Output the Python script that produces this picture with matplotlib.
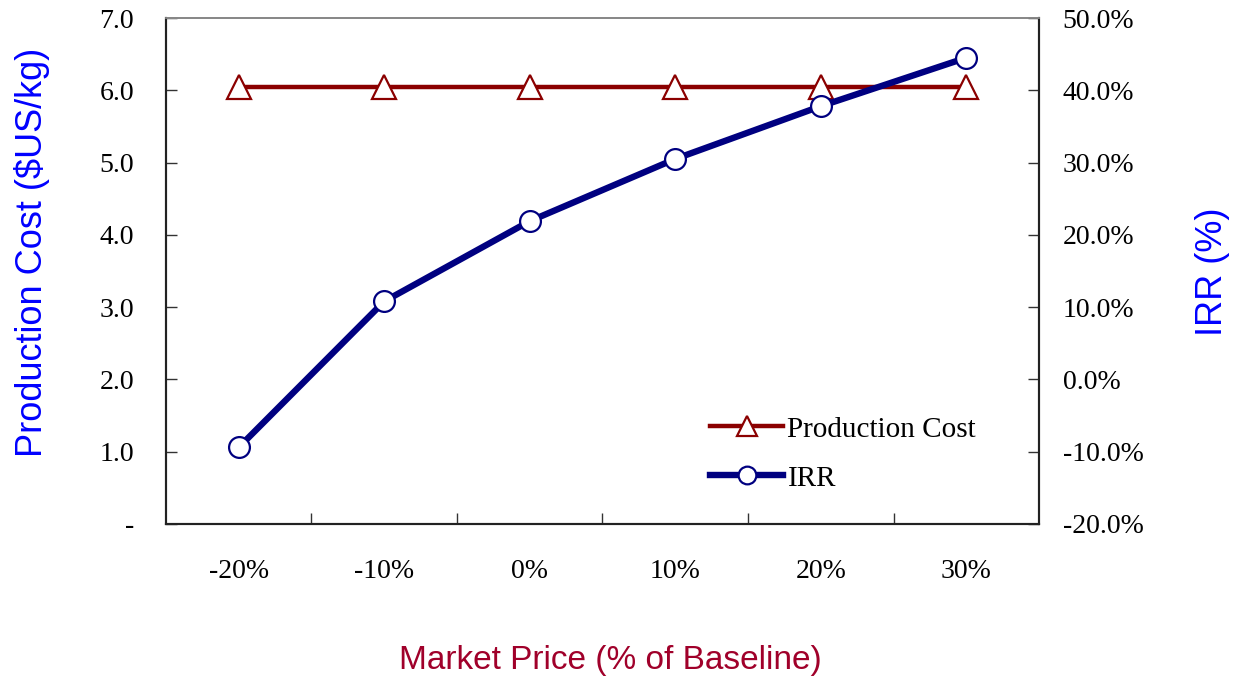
import matplotlib
matplotlib.use("Agg")
import matplotlib.pyplot as plt
from matplotlib.ticker import FixedLocator, FuncFormatter

categories = ["-20%", "-10%", "0%", "10%", "20%", "30%"]
production_cost = [6.05, 6.05, 6.05, 6.05, 6.05, 6.05]
irr = [-9.4, 10.8, 21.9, 30.5, 37.8, 44.5]

left_ticks = [0, 1, 2, 3, 4, 5, 6, 7]
right_ticks = [-20, -10, 0, 10, 20, 30, 40, 50]

serif = "Liberation Serif"
sans = "Liberation Sans"

fig = plt.figure(figsize=(12.35, 6.77), dpi=100)
ax = fig.add_axes([0.1344, 0.226, 0.7069, 0.7474])
ax2 = ax.twinx()

x = list(range(len(categories)))

ax.plot(x, production_cost, color="#8B0000", lw=3.2, marker="^", ms=17,
        mfc="white", mec="#8B0000", mew=1.6, zorder=3, label="Production Cost")
ax2.plot(x, irr, color="#000080", lw=4.6, marker="o", ms=15,
         mfc="white", mec="#000080", mew=1.6, zorder=3, label="IRR")

ax.set_xlim(-0.5, len(categories) - 0.5)
ax.set_ylim(0, 7)
ax2.set_ylim(-20, 50)

ax.set_xticks(x)
ax.set_xticklabels(categories, fontfamily=serif, fontsize=20)
ax.tick_params(axis="x", which="major", length=0, pad=25)
ax.xaxis.set_minor_locator(FixedLocator([i + 0.5 for i in x[:-1]]))
ax.tick_params(axis="x", which="minor", direction="in", length=8, width=1, color="#333333")

ax.yaxis.set_major_locator(FixedLocator(left_ticks))
ax.yaxis.set_major_formatter(FuncFormatter(lambda v, p: "-" if v == 0 else f"{v:.1f}"))
ax.tick_params(axis="y", direction="in", length=8, width=1, pad=23, color="#333333")
for t in ax.get_yticklabels():
    t.set_fontfamily(serif)
    t.set_fontsize(20)

ax2.yaxis.set_major_locator(FixedLocator(right_ticks))
ax2.yaxis.set_major_formatter(FuncFormatter(lambda v, p: f"{v:.1f}%"))
ax2.tick_params(axis="y", direction="in", length=8, width=1, pad=17, color="#333333")
for t in ax2.get_yticklabels():
    t.set_fontfamily(serif)
    t.set_fontsize(20)

for a in (ax, ax2):
    for s in a.spines.values():
        s.set_linewidth(1.5)
        s.set_color("#222222")
    a.spines["top"].set_color("#888888")
    a.spines["top"].set_linewidth(1.3)

ax.set_ylabel("Production Cost ($US/kg)", color="#0000FF", fontfamily=sans, fontsize=26)
ax.yaxis.label.set_va("center")
ax.yaxis.set_label_coords(-0.153, 0.537)

ax2.set_ylabel("IRR (%)", color="#0000FF", fontfamily=sans, fontsize=26)
ax2.yaxis.label.set_va("center")
ax2.yaxis.set_label_coords(1.199, 0.498)

ax.set_xlabel("Market Price (% of Baseline)", color="#A0002A", fontfamily=sans, fontsize=24)
ax.xaxis.label.set_va("center")
ax.xaxis.set_label_coords(0.5086, -0.269)

h1, l1 = ax.get_legend_handles_labels()
h2, l2 = ax2.get_legend_handles_labels()
leg = ax2.legend(h1 + h2, l1 + l2, loc="lower right", bbox_to_anchor=(0.958, 0.012),
                 frameon=False, prop={"family": serif, "size": 21},
                 handlelength=2.5, handletextpad=0.15, labelspacing=0.78, markerscale=0.85)

fig.savefig("out.png", dpi=100)
